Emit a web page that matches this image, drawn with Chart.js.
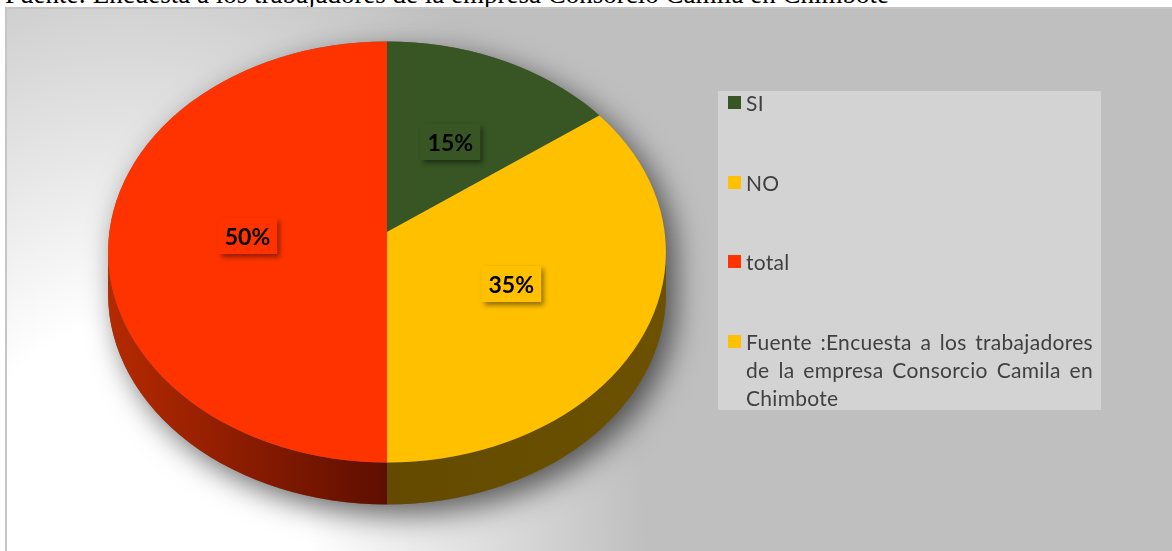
<!DOCTYPE html>
<html><head><meta charset="utf-8">
<script src="https://cdn.jsdelivr.net/npm/chart.js@4.4.1/dist/chart.umd.min.js"></script>
<style>
html,body{margin:0;padding:0;width:1172px;height:551px;overflow:hidden;background:#fff;}
#title{position:absolute;left:5px;top:-19px;font:27px "Liberation Serif","Times New Roman",serif;line-height:27px;color:#000;white-space:nowrap;}
#frame{position:absolute;left:5px;top:7px;width:1167px;height:544px;box-sizing:border-box;border:2px solid #c6c6c6;border-right:none;border-bottom:none;background:radial-gradient(ellipse 520px 700px at 120px 560px,#fff 35%,#bfbfbf 100%);}
#c{position:absolute;left:0;top:0;}
#legend{position:absolute;left:718px;top:91px;width:383px;height:319px;background:#d3d3d3;font:21px Lato,sans-serif;letter-spacing:0.3px;color:#404040;}
.item{position:absolute;left:28px;width:347px;line-height:28px;text-align:justify;}
.item .sw{position:absolute;left:-18px;top:7px;width:13px;height:13px;}
.lbl{position:absolute;font:bold 23px Lato,sans-serif;color:#000;padding:6px 7px;line-height:24px;box-shadow:3px 3px 5px rgba(0,0,0,.45);transform:translate(-50%,-50%);}
</style></head>
<body>
<div id="title">Fuente: Encuesta a los trabajadores de la empresa Consorcio Camila en Chimbote</div>
<div id="frame"></div>
<canvas id="c" width="1172" height="551"></canvas>
<div id="legend"></div>
<script>
const categories = ['SI', 'NO', 'total', 'Fuente :Encuesta a los trabajadores de la empresa Consorcio Camila en Chimbote'];
const values = [15, 35, 50, 0];
const percentLabels = ['15%', '35%', '50%', ''];
const colors = ['#375623', '#ffc000', '#ff3300', '#ffc000'];
const sideLight = ['#2a4419', '#6b5100', '#b52a00', '#6b5100'];
const sideDark = ['#1e3013', '#634a00', '#5e0e00', '#634a00'];

const TILT = 0.755, SHIFT = 20, DEPTH = 42, FACE = 0.894;

function geom(chart) {
  const arcs = chart.getDatasetMeta(0).data;
  const a = arcs[0];
  const cx = a.x, cy = a.y;
  const rx = a.outerRadius * FACE;
  const ry = rx * TILT;
  return {arcs, cx, cy, rx, ry, ey: cy + SHIFT};
}
function rimParam(g, ang) {
  const sk = SHIFT / TILT;
  const s = Math.sin(ang), c = Math.cos(ang);
  const t = s * sk + Math.sqrt(Math.max(0, (s * sk) ** 2 - sk * sk + g.rx * g.rx));
  const px = t * c, py = t * TILT * s - SHIFT;
  const raw = Math.atan2(py / g.ry, px / g.rx);
  return raw + 2 * Math.PI * Math.round((ang - raw) / (2 * Math.PI));
}

const pie3d = {
  id: 'pie3d',
  beforeDatasetsDraw(chart) {
    const ctx = chart.ctx;
    const g = geom(chart);
    // drop shadow
    ctx.save();
    ctx.shadowColor = 'rgba(0,0,0,0.6)';
    ctx.shadowBlur = 30; ctx.shadowOffsetX = 9; ctx.shadowOffsetY = 10;
    ctx.beginPath();
    ctx.ellipse(g.cx, g.ey, g.rx, g.ry, 0, Math.PI, 2 * Math.PI);
    ctx.ellipse(g.cx, g.ey + DEPTH, g.rx, g.ry, 0, 0, Math.PI);
    ctx.closePath();
    ctx.fillStyle = '#666';
    ctx.fill();
    ctx.restore();
    // side walls
    g.arcs.forEach((arc, i) => {
      if (!values[i]) return;
      const a0 = rimParam(g, arc.startAngle), a1 = rimParam(g, arc.endAngle);
      [0, 2 * Math.PI].forEach(off => {
        const lo = Math.max(a0, off), hi = Math.min(a1, off + Math.PI);
        if (hi <= lo) return;
        const mid = Math.cos((lo + hi) / 2) < 0 ? -1 : 1;
        const grad = ctx.createLinearGradient(g.cx, 0, g.cx + mid * g.rx, 0);
        grad.addColorStop(0, sideDark[i]);
        grad.addColorStop(1, sideLight[i]);
        ctx.beginPath();
        ctx.ellipse(g.cx, g.ey, g.rx, g.ry, 0, lo, hi, false);
        ctx.ellipse(g.cx, g.ey + DEPTH, g.rx, g.ry, 0, hi, lo, true);
        ctx.closePath();
        ctx.fillStyle = grad;
        ctx.fill();
      });
    });
    // top face: clip to tilted rim, squash the library's arcs
    ctx.save();
    ctx.beginPath();
    ctx.ellipse(g.cx, g.ey, g.rx, g.ry, 0, 0, 2 * Math.PI);
    ctx.clip();
    ctx.translate(g.cx, g.cy);
    ctx.scale(1, TILT);
    ctx.translate(-g.cx, -g.cy);
  },
  afterDatasetsDraw(chart) {
    chart.ctx.restore();
  }
};

const chart = new Chart(document.getElementById('c'), {
  type: 'pie',
  data: {
    labels: categories,
    datasets: [{data: values, backgroundColor: colors, borderWidth: 0, radius: 312, clip: false}]
  },
  options: {
    responsive: false,
    animation: false,
    events: [],
    layout: {padding: {left: 75, right: 473, top: 20, bottom: 107}},
    plugins: {legend: {display: false}, tooltip: {enabled: false}}
  },
  plugins: [pie3d]
});

// legend (HTML)
const lg = document.getElementById('legend');
categories.forEach((name, i) => {
  const d = document.createElement('div');
  d.className = 'item';
  d.style.top = (-2 + i * 79.5) + 'px';
  const sw = document.createElement('span');
  sw.className = 'sw';
  sw.style.background = colors[i];
  d.appendChild(sw);
  d.appendChild(document.createTextNode(name));
  lg.appendChild(d);
});

// value labels
const g = geom(chart);
g.arcs.forEach((arc, i) => {
  if (!values[i]) return;
  const m = (arc.startAngle + arc.endAngle) / 2;
  const r = g.rx * 0.5;
  const el = document.createElement('div');
  el.className = 'lbl';
  el.textContent = percentLabels[i];
  el.style.background = colors[i];
  el.style.left = (g.cx + r * Math.cos(m)) + 'px';
  el.style.top = (g.cy + SHIFT * 0.2 + r * TILT * Math.sin(m)) + 'px';
  document.body.appendChild(el);
});
</script>
</body></html>
